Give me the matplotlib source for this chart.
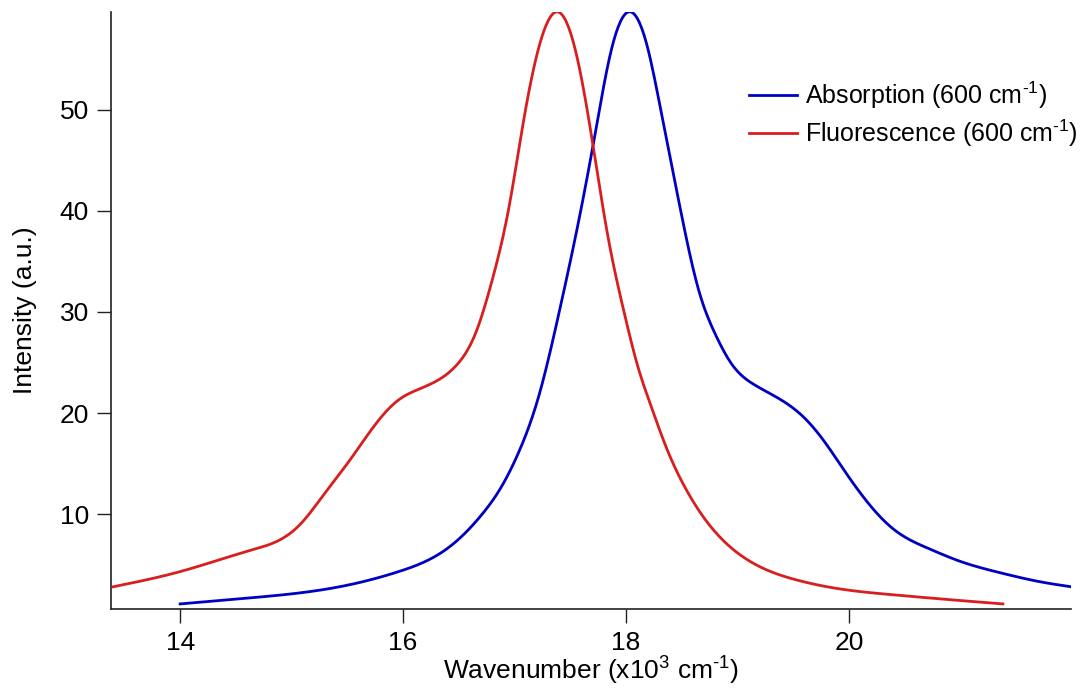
import numpy as np
import matplotlib
matplotlib.use('Agg')
import matplotlib.pyplot as plt

# values (x in 10^3 cm^-1)
abs_x = [14.0, 14.63, 15.08, 15.52, 15.96, 16.41, 16.71, 16.86, 17.04, 17.22, 17.40,
         17.58, 17.72, 17.86, 18.02, 18.18, 18.33, 18.47, 18.65, 18.80, 18.95,
         19.15, 19.39, 19.61, 19.79, 19.97, 20.17, 20.41, 20.71, 21.0, 21.35,
         21.71, 21.99]
abs_y = [1.1, 1.7, 2.2, 3.0, 4.3, 6.7, 10.0, 12.3, 16.2, 21.8, 30.0,
         39.3, 47.5, 55.6, 59.7, 56.7, 48.9, 41.1, 32.2, 27.8, 24.8,
         22.8, 21.3, 19.4, 17.0, 14.1, 11.1, 8.4, 6.6, 5.3, 4.2,
         3.3, 2.8]

fl_x = [13.40, 14.0, 14.63, 15.07, 15.30, 15.52, 15.76, 15.96, 16.15, 16.32,
        16.50, 16.65, 16.80, 16.95, 17.08, 17.23, 17.39, 17.55, 17.69, 17.83,
        17.99, 18.10, 18.22, 18.36, 18.54, 18.70, 19.07, 19.52, 19.97, 20.40,
        20.71, 21.38]
fl_y = [2.8, 4.3, 6.4, 8.9, 12.1, 15.3, 19.0, 21.3, 22.4, 23.3,
        25.0, 27.9, 33.2, 40.4, 48.9, 56.7, 59.7, 55.7, 47.4, 37.9,
        29.6, 24.8, 20.8, 16.6, 12.4, 9.6, 5.6, 3.5, 2.5, 2.0,
        1.7, 1.1]

labels = ['Absorption (600 cm$^{\\text{-}1}$)', 'Fluorescence (600 cm$^{\\text{-}1}$)']


def smooth(x, y, n=800):
    # natural cubic spline through the read points
    x = np.asarray(x, float)
    y = np.asarray(y, float)
    N = len(x)
    h = np.diff(x)
    A = np.zeros((N, N))
    b = np.zeros(N)
    A[0, 0] = A[-1, -1] = 1
    for i in range(1, N - 1):
        A[i, i - 1] = h[i - 1]
        A[i, i] = 2 * (h[i - 1] + h[i])
        A[i, i + 1] = h[i]
        b[i] = 6 * ((y[i + 1] - y[i]) / h[i] - (y[i] - y[i - 1]) / h[i - 1])
    M = np.linalg.solve(A, b)
    xs = np.linspace(x[0], x[-1], n)
    i = np.clip(np.searchsorted(x, xs) - 1, 0, N - 2)
    t1 = x[i + 1] - xs
    t0 = xs - x[i]
    ys = (M[i] * t1**3 + M[i + 1] * t0**3) / (6 * h[i]) \
        + (y[i] / h[i] - M[i] * h[i] / 6) * t1 \
        + (y[i + 1] / h[i] - M[i + 1] * h[i] / 6) * t0
    return xs, ys


plt.rcParams['font.family'] = ['Liberation Sans', 'DejaVu Sans']
plt.rcParams['mathtext.fontset'] = 'custom'
plt.rcParams['mathtext.rm'] = 'Liberation Sans'
plt.rcParams['mathtext.default'] = 'regular'

fs = 19
fig = plt.figure(figsize=(10.81, 6.91), dpi=100)
ax = fig.add_axes([0.1027, 0.1187, 0.888, 0.864])

xa, ya = smooth(abs_x, abs_y)
xf, yf = smooth(fl_x, fl_y)
ax.plot(xa, ya, color='#0000c4', lw=2.0, label=labels[0])
ax.plot(xf, yf, color='#d81e1e', lw=2.0, label=labels[1])

ax.set_xlim(13.38, 21.99)
ax.set_ylim(0.6, 59.7)
ax.set_xticks([14, 16, 18, 20])
ax.set_yticks([10, 20, 30, 40, 50])

for s in ['top', 'right']:
    ax.spines[s].set_visible(False)
for s in ['left', 'bottom']:
    ax.spines[s].set_linewidth(1.2)
    ax.spines[s].set_color('#222222')
ax.tick_params(direction='out', length=10, width=1.0, color='#222222', labelsize=fs, pad=6)

ax.set_xlabel('Wavenumber (x10$^{3}$ cm$^{\\text{-}1}$)', fontsize=fs, labelpad=0)
ax.set_ylabel('Intensity (a.u.)', fontsize=fs, labelpad=16)

fig.legend(loc='upper left', bbox_to_anchor=(0.693, 0.885), frameon=False,
           handlelength=1.9, handletextpad=0.35, labelspacing=0.25, fontsize=18,
           borderaxespad=0, borderpad=0)

fig.savefig('out.png', dpi=100)
